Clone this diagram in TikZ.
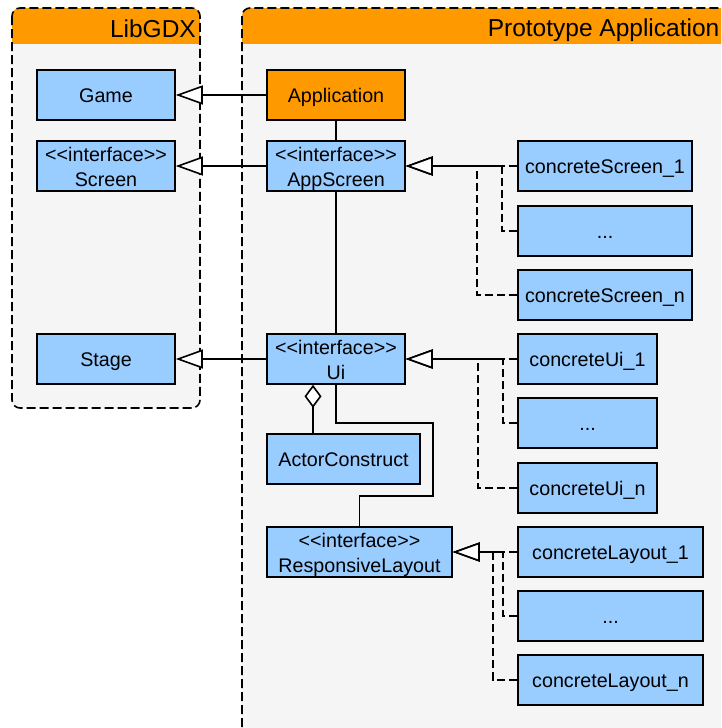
\documentclass[tikz,border=0pt]{standalone}
\usepackage{fontspec}
\setmainfont{Liberation Sans}
\usetikzlibrary{arrows.meta}
\definecolor{hdr}{HTML}{FF9900}
\definecolor{bodyg}{HTML}{F5F5F5}
\definecolor{boxb}{HTML}{99CCFF}
\newcommand{\ltlt}{<\kern0pt<}
\newcommand{\gtgt}{>\kern0pt>}
\tikzset{
  cls/.style={draw=black, line width=1.6pt, fill=boxb, inner sep=0pt, minimum height=50pt,
    align=center, font=\fontsize{19.7}{25}\selectfont, text=black, text height=14pt, text depth=0pt},
  twoline/.style={text height=40.5pt, text depth=0pt},
  clsorange/.style={cls, fill=hdr},
  conn/.style={line width=1.6pt, draw=black},
  gen/.style={conn, -{Triangle[length=27pt,width=19pt,fill=white]}},
  realz/.style={gen, dash pattern=on 8pt off 4pt},
  agg/.style={conn, {Diamond[length=23pt,width=17pt,fill=white]}-},
  frame/.style={draw=black, line width=1.6pt, dash pattern=on 9pt off 4pt, rounded corners=8pt},
  hdrtext/.style={font=\fontsize{24.5}{30}\selectfont, inner sep=0pt}
}
\begin{document}
\begin{tikzpicture}[x=1pt, y=-1pt]
\path[use as bounding box, clip] (0,0) rectangle (721,728);
% containers
\fill[bodyg, rounded corners=8pt] (12,8) rectangle (200,408);
\begin{scope}
  \clip[rounded corners=8pt] (12,8) rectangle (200,408);
  \fill[hdr] (12,0) rectangle (200,44);
\end{scope}
\draw[frame] (12,8) rectangle (200,408);
\node[hdrtext, anchor=base east] (libhdr) at (196,37) {LibGDX};

\fill[bodyg, rounded corners=8pt] (242,8) rectangle (780,790);
\begin{scope}
  \clip[rounded corners=8pt] (242,8) rectangle (780,790);
  \fill[hdr] (242,0) rectangle (780,44);
\end{scope}
\draw[frame] (242,8) rectangle (780,790);
\node[hdrtext, anchor=base east] (prohdr) at (719.5,36) {Prototype Application};

% classes
\node[cls, minimum width=138pt] (game) at (106,95) {Game};
\node[cls, twoline, minimum width=138pt] (screen) at (106,166) {\ltlt interface\gtgt\\Screen};
\node[cls, minimum width=138pt] (stage) at (106,359) {Stage};
\node[clsorange, minimum width=138pt] (app) at (336,95) {Application};
\node[cls, twoline, minimum width=138pt] (appscreen) at (336,166) {\ltlt interface\gtgt\\AppScreen};
\node[cls, twoline, minimum width=138pt] (ui) at (336,359) {\ltlt interface\gtgt\\Ui};
\node[cls, minimum width=153pt] (actor) at (343.5,459) {ActorConstruct};
\node[cls, twoline, minimum width=185pt] (resp) at (359.5,552) {\ltlt interface\gtgt\\ResponsiveLayout};

\node[cls, minimum width=174pt] (cs1) at (605,166) {concreteScreen\_1};
\node[cls, minimum width=174pt] (csd) at (605,231) {...};
\node[cls, minimum width=174pt] (csn) at (605,295) {concreteScreen\_n};

\node[cls, minimum width=139pt] (cu1) at (587.5,359) {concreteUi\_1};
\node[cls, minimum width=139pt] (cud) at (587.5,423) {...};
\node[cls, minimum width=139pt] (cun) at (587.5,488) {concreteUi\_n};

\node[cls, minimum width=185pt] (cl1) at (610.5,552) {concreteLayout\_1};
\node[cls, minimum width=185pt] (cld) at (610.5,616) {...};
\node[cls, minimum width=185pt] (cln) at (610.5,680) {concreteLayout\_n};

% helper coordinates
\coordinate (xs1) at (502,0);
\coordinate (xs2) at (477,0);
\coordinate (xu1) at (503,0);
\coordinate (xu2) at (478,0);
\coordinate (xl1) at (503,0);
\coordinate (xl2) at (493,0);
\coordinate (xd) at (313,0);
\coordinate (r1) at (336,423);
\coordinate (r2) at (433,423);
\coordinate (r3) at (433,496);
\coordinate (r4) at (359.5,496);

% generalizations to LibGDX
\draw[gen] (app.west) -- (game.east);
\draw[gen] (appscreen.west) -- (screen.east);
\draw[gen] (ui.west) -- (stage.east);

% associations
\draw[conn] (app.south) -- (appscreen.north);
\draw[conn] (appscreen.south) -- (ui.north);
\draw[conn] (ui.south) -- (r1) -- (r2) -- (r3) -- (r4) -- (resp.north);
\draw[agg] (ui.south -| xd) -- (actor.north -| xd);

% realizations
\draw[realz] (cs1.west) -- (appscreen.east);
\draw[realz] (csd.west) -| (xs1 |- appscreen.east) -- (appscreen.east);
\draw[realz] (csn.west) -| (xs2 |- appscreen.east) -- (appscreen.east);

\draw[realz] (cu1.west) -- (ui.east);
\draw[realz] (cud.west) -| (xu1 |- ui.east) -- (ui.east);
\draw[realz] (cun.west) -| (xu2 |- ui.east) -- (ui.east);

\draw[realz] (cl1.west) -- (resp.east);
\draw[realz] (cld.west) -| (xl1 |- resp.east) -- (resp.east);
\draw[realz] (cln.west) -| (xl2 |- resp.east) -- (resp.east);
\end{tikzpicture}
\end{document}
